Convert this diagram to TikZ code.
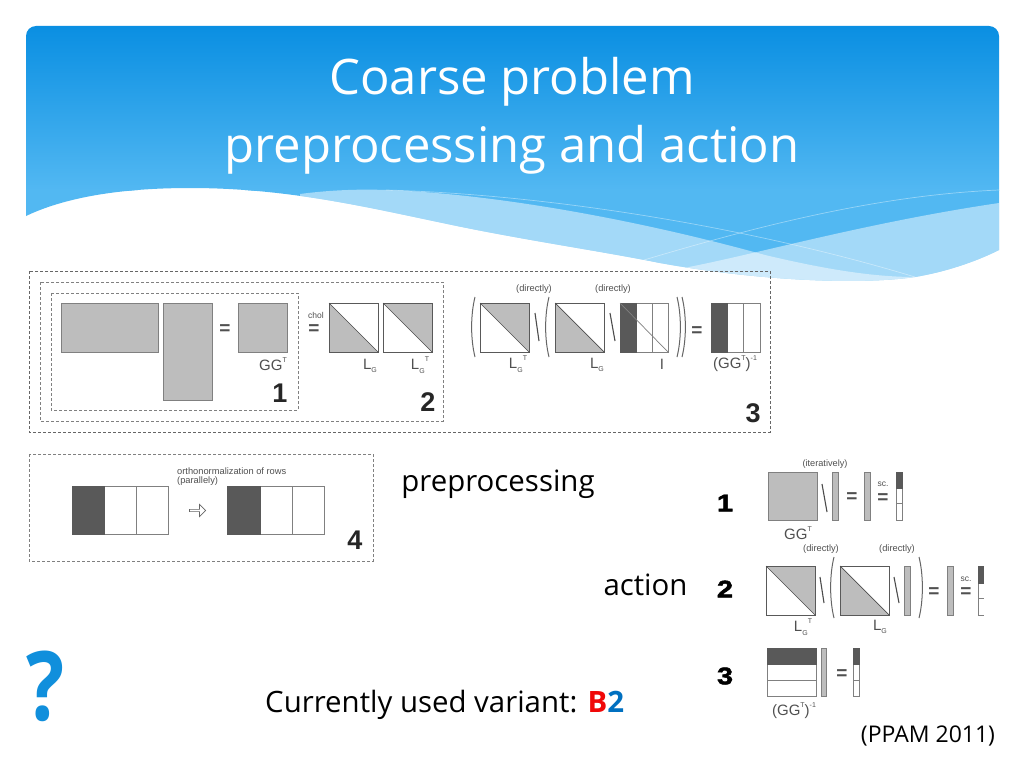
\documentclass[tikz,border=0pt]{standalone}
\usepackage{fontspec}
\setmainfont{Open Sans}
\newfontfamily\figfont{Liberation Sans}
\newfontfamily\heavyfont[BoldFeatures={FakeBold=2}]{Liberation Sans}
\usetikzlibrary{shapes.arrows}
\definecolor{hdtop}{HTML}{0A8FE2}
\definecolor{hdmid}{HTML}{52B8F2}
\definecolor{cellgray}{HTML}{BDBDBD}
\definecolor{celldark}{HTML}{595959}
\definecolor{celledge}{HTML}{808080}
\definecolor{figtext}{HTML}{505050}
\definecolor{qblue}{HTML}{108FDC}
\definecolor{redB}{HTML}{F00808}
\definecolor{blue2}{HTML}{0070C0}
\newcommand{\fsz}[1]{\fontsize{#1}{#1}\selectfont}
\newcommand{\subG}{\raisebox{-0.22em}{\fsz{7}G}}
\newcommand{\supT}{\raisebox{0.55em}{\fsz{7}T}}
\tikzset{
  dashbox/.style={draw=black!50,dash pattern=on 3pt off 2pt,line width=1pt},
  thindash/.style={draw=black!60,dash pattern=on 3pt off 2pt,line width=0.8pt},
  cell/.style={draw=celledge,line width=1pt},
  grayfill/.style={cell,fill=cellgray},
  solidbox/.style={draw=black!65,line width=1pt},
  slash/.style={draw=black!70,line width=1.1pt},
  bigparen/.style={draw=black!60,line width=1pt},
  eqsign/.style={figtext,font=\figfont\bfseries\fsz{19},inner sep=0pt},
  figlab/.style={figtext,font=\figfont\fsz{15},inner sep=0pt},
  smalllab/.style={figtext,font=\figfont\fsz{8.5},inner sep=0pt},
  midlab/.style={figtext,font=\figfont\fsz{9.3},inner sep=0pt},
  bignum/.style={black!85,font=\figfont\bfseries\fsz{27},inner sep=0pt},
  actnum/.style={black,font=\heavyfont\bfseries\fsz{24},inner sep=0pt,xscale=1.2},
  bodytext/.style={black,font=\fsz{29.4},inner sep=0pt},
  titletext/.style={white,font=\fsz{49},inner sep=0pt}
}
\newcommand{\lowtri}[3]{%
  \fill[cellgray] (#1,#2) -- (#1+#3,#2+#3) -- (#1,#2+#3) -- cycle;
  \draw[solidbox] (#1,#2) rectangle (#1+#3,#2+#3);
  \draw[draw=black!70,line width=.7pt] (#1,#2) -- (#1+#3,#2+#3);}
\newcommand{\uptri}[3]{%
  \fill[cellgray] (#1,#2) -- (#1+#3,#2) -- (#1+#3,#2+#3) -- cycle;
  \draw[solidbox] (#1,#2) rectangle (#1+#3,#2+#3);
  \draw[draw=black!70,line width=.7pt] (#1,#2) -- (#1+#3,#2+#3);}
\newcommand{\threecol}[6]{%
  \draw[cell] (#1,#5) rectangle (#4,#6);
  \draw[cell] (#3,#5) -- (#3,#6);
  \fill[celldark] (#1-.5,#5-.5) rectangle (#2+.5,#6+.5);}
\newcommand{\threerow}[6]{%
  \draw[cell] (#1,#3) rectangle (#2,#6);
  \draw[cell] (#1,#5) -- (#2,#5);
  \fill[celldark] (#1-.5,#3-.5) rectangle (#2+.5,#4+.5);}
\newcommand{\lparen}[3]{\draw[bigparen] (#1,#2) .. controls (#1-4.5,#2+18) and (#1-4.5,#3-18) .. (#1,#3);}
\newcommand{\rparen}[3]{\draw[bigparen] (#1,#2) .. controls (#1+4.5,#2+18) and (#1+4.5,#3-18) .. (#1,#3);}
\begin{document}
\begin{tikzpicture}[x=1pt,y=-1pt]
\useasboundingbox (0,0) rectangle (1024,768);
\fill[white] (0,0) rectangle (1024,768);
\def\hdshape{(26,216) .. controls (70,195) and (130,188) .. (190,188)
  .. controls (290,188) and (370,208) .. (457,226)
  .. controls (530,241) and (600,251) .. (660,263)
  .. controls (760,281) and (860,285) .. (915,277)
  .. controls (945,272) and (975,262) .. (999,250)
  -- (999,36) arc[start angle=0,end angle=90,x radius=10,y radius=-10]
  -- (36,26) arc[start angle=90,end angle=180,x radius=10,y radius=-10] -- cycle}
\begin{scope}
  \clip \hdshape;
  \shade[top color=hdtop,bottom color=hdmid] (0,26) rectangle (1024,190);
  \fill[hdmid] (0,189.5) rectangle (1024,300);
  \fill[white,opacity=.47] (300,194) .. controls (330,190) and (360,189) .. (386,190)
    .. controls (480,193) and (620,215) .. (765,255)
    .. controls (820,268) and (870,277) .. (915,277) -- (915,300) -- (300,300) -- cycle;
  \fill[white,opacity=.47] (660,272) .. controls (730,262) and (850,225) .. (999,203)
    -- (999,300) -- (660,300) -- cycle;
  \draw[white,opacity=.4,line width=.7pt] (386,190) .. controls (560,195) and (760,230) .. (915,277);
  \draw[white,opacity=.4,line width=.7pt] (634,263) .. controls (760,225) and (880,195) .. (999,190);
\end{scope}
\node[titletext] (title1) at (512,82) {Coarse problem};
\node[titletext] (title2) at (512,150) {preprocessing and action};
\draw[thindash] (29,271) rectangle (770,432);
\draw[dashbox] (40,282) rectangle (443,421);
\draw[dashbox] (51,293) rectangle (298,410);
\draw[dashbox] (29,454) rectangle (373,561);
% step 1
\draw[grayfill] (61,303) rectangle (158,352);
\draw[grayfill] (163,303) rectangle (212,400);
\node[eqsign] (eqa) at (225,330) {=};
\draw[grayfill] (238,303) rectangle (287,352);
\node[figlab] (gga) at (273,364) {GG\supT};
\node[bignum] (numa) at (280,393) {1};
% step 2
\node[smalllab] (chol) at (316,315) {chol};
\node[eqsign] (eqb) at (314,330) {=};
\lowtri{329}{303}{49}
\uptri{383}{303}{49}
\node[figlab] (lga) at (370,366) {L\subG};
\node[figlab] (lgta) at (420,365) {L\subG\supT};
\node[bignum] (numb) at (428,402) {2};
% step 3
\lparen{475}{297}{357}
\uptri{480}{303}{49}
\draw[slash] (535,313) -- (539,341);
\lparen{549}{297}{357}
\lowtri{555}{303}{49}
\draw[slash] (610,313) -- (615,341);
\threecol{620}{636}{652}{668}{303}{352}
\draw[draw=celledge,line width=.7pt] (620,303) -- (668,352);
\rparen{677}{297}{357}
\rparen{682}{297}{357}
\node[eqsign] (eqc) at (697,332) {=};
\threecol{711}{727}{743}{760}{303}{352}
\node[midlab] (dira) at (534,289) {(directly)};
\node[midlab] (dirb) at (613,289) {(directly)};
\node[figlab] (lgtb) at (518,364) {L\subG\supT};
\node[figlab] (lgb) at (597,365) {L\subG};
\node[figlab] (ia) at (662,364) {I};
\node[figlab] (ginva) at (735,364) {(GG\supT)\raisebox{0.55em}{\fsz{7}-1}};
\node[bignum] (numc) at (753,413) {3};
% step 4
\threecol{72}{104}{136}{168}{486}{534}
\threecol{227}{260}{292}{324}{486}{534}
\node[midlab,align=left,anchor=north west] (ortho) at (177,468) {orthonormalization of rows\\[-0.5pt](parallely)};
\node[draw=black!60,fill=white,line width=.7pt,single arrow,single arrow head extend=1.5pt,minimum height=16pt,minimum width=12pt,inner sep=0pt] (arrowa) at (197,510.5) {};
\node[bignum] (numd) at (355,540) {4};
% labels
\node[bodytext,anchor=base] (prep) at (498,491) {preprocessing};
\node[bodytext,anchor=base] (act) at (645.5,595) {action};
\node[bodytext,anchor=base west] (curr) at (265,712) {Currently used variant: \textcolor{redB}{\textbf{B}}\textcolor{blue2}{\textbf{2}}};
\node[black,font=\fsz{23},inner sep=0pt] (ppam) at (928,736) {(PPAM 2011)};
\node[qblue,font=\bfseries\fsz{96},inner sep=0pt,xscale=.83] (qmark) at (46,686) {?};
% action 1
\node[actnum] (acta) at (725,503) {1};
\node[smalllab,font=\figfont\fsz{9.2}] (iter) at (825,464) {(iteratively)};
\draw[grayfill] (768,472) rectangle (817,520);
\draw[slash] (822,484) -- (827,512);
\draw[grayfill] (832,472) rectangle (838,520);
\node[eqsign] (eqd) at (852,498) {=};
\draw[grayfill] (864,472) rectangle (870,520);
\node[smalllab] (sca) at (883,484) {sc.};
\node[eqsign] (eqe) at (883,499) {=};
\threerow{896}{902}{472}{488}{503}{520}
\node[figlab] (ggb) at (798,533) {GG\supT};
% action 2
\node[actnum] (actb) at (725,589) {2};
\node[midlab] (dirc) at (821,549) {(directly)};
\node[midlab] (dird) at (897,549) {(directly)};
\uptri{766}{566}{49}
\draw[slash] (820,577) -- (824,603);
\lparen{834}{557}{618}
\lowtri{840}{566}{49}
\draw[slash] (894,577) -- (899,603);
\draw[grayfill] (904,566) rectangle (910,615);
\rparen{919}{557}{618}
\node[eqsign] (eqf) at (934,593) {=};
\draw[grayfill] (947,566) rectangle (953,615);
\node[smalllab] (scb) at (966,579) {sc.};
\node[eqsign] (eqg) at (966,593) {=};
\draw[cell] (984,566) -- (978,566) -- (978,615) -- (984,615);
\draw[cell] (978,598) -- (984,598);
\fill[celldark] (977.5,565.5) rectangle (984,583.5);
\node[figlab] (lgtc) at (803,627) {L\subG\supT};
\node[figlab] (lgc) at (880,627) {L\subG};
% action 3
\node[actnum] (actc) at (725,676) {3};
\threerow{767}{816}{648}{664}{680}{696}
\draw[grayfill] (821,648) rectangle (826,696);
\node[eqsign] (eqh) at (842,675) {=};
\threerow{853}{859}{648}{664}{680}{696}
\node[figlab] (ginvb) at (794,711) {(GG\supT)\raisebox{0.55em}{\fsz{7}-1}};
\end{tikzpicture}
\end{document}
